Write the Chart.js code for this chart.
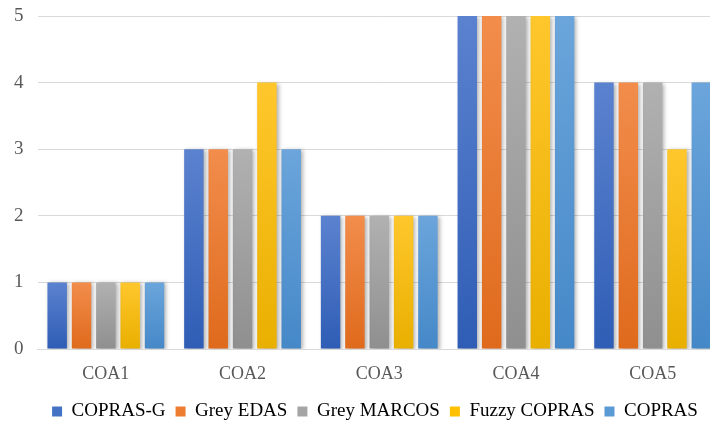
<!DOCTYPE html>
<html>
<head>
<meta charset="utf-8">
<script src="https://cdn.jsdelivr.net/npm/chart.js@4/dist/chart.umd.min.js"></script>
<style>
  html, body { margin: 0; padding: 0; background: #fff; }
  #wrap { width: 710px; height: 423px; overflow: hidden; position: relative; }
  #box { width: 750px; height: 423px; position: absolute; left: 0; top: 0; }
</style>
</head>
<body>
<div id="wrap"><div id="box"><canvas id="chart"></canvas></div></div>
<script>
'use strict';

const categories = ['COA1', 'COA2', 'COA3', 'COA4', 'COA5'];
const seriesNames = ['COPRAS-G', 'Grey EDAS', 'Grey MARCOS', 'Fuzzy COPRAS', 'COPRAS'];
const coprasG = [1, 3, 2, 5, 4];
const greyEdas = [1, 3, 2, 5, 4];
const greyMarcos = [1, 3, 2, 5, 4];
const fuzzyCopras = [1, 4, 2, 5, 3];
const copras = [1, 3, 2, 5, 4];
const yTicks = [0, 1, 2, 3, 4, 5];

// base colour, lighter top, darker bottom
const palette = [
  ['#4472c4', '#5b82cf', '#2f5db5'],
  ['#ed7d31', '#f28d4c', '#df6a1c'],
  ['#a5a5a5', '#b1b1b1', '#8f8f8f'],
  ['#ffc000', '#ffc72c', '#e9af00'],
  ['#5b9bd5', '#6ba5db', '#4588c8']
];

function barFill(idx) {
  return (context) => {
    const chart = context.chart;
    if (!chart.chartArea || context.type !== 'data') return palette[idx][0];
    const y = chart.scales.y;
    const top = y.getPixelForValue(context.raw);
    const bottom = y.getPixelForValue(0);
    if (!Number.isFinite(top) || top === bottom) return palette[idx][0];
    const g = chart.ctx.createLinearGradient(0, top, 0, bottom);
    g.addColorStop(0, palette[idx][1]);
    g.addColorStop(1, palette[idx][2]);
    return g;
  };
}

const barShadow = {
  id: 'barShadow',
  beforeDatasetsDraw(chart) {
    const ctx = chart.ctx;
    ctx.save();
    ctx.shadowColor = 'rgba(0, 0, 0, 0.3)';
    ctx.shadowBlur = 4;
    ctx.shadowOffsetX = 2;
    ctx.shadowOffsetY = 1;
  },
  afterDatasetsDraw(chart) {
    chart.ctx.restore();
  }
};

const values = [coprasG, greyEdas, greyMarcos, fuzzyCopras, copras];

new Chart(document.getElementById('chart'), {
  type: 'bar',
  data: {
    labels: categories,
    datasets: values.map((data, i) => ({
      label: seriesNames[i],
      data,
      backgroundColor: barFill(i),
      borderWidth: 0,
      categoryPercentage: 0.89,
      barPercentage: 0.8
    }))
  },
  plugins: [barShadow],
  options: {
    responsive: true,
    maintainAspectRatio: false,
    animation: false,
    layout: { padding: { left: 0, right: 0, top: 0, bottom: -8 } },
    plugins: {
      legend: {
        position: 'bottom',
        labels: {
          color: '#404040',
          font: { family: 'Liberation Serif', size: 19 },
          boxWidth: 10,
          boxHeight: 10,
          padding: 10,
          generateLabels(chart) {
            return chart.data.datasets.map((ds, i) => ({
              text: ds.label,
              fillStyle: palette[i][0],
              strokeStyle: palette[i][0],
              lineWidth: 0,
              datasetIndex: i,
              hidden: false
            }));
          }
        }
      },
      tooltip: { enabled: false }
    },
    scales: {
      x: {
        grid: { display: false, drawTicks: false },
        border: { display: true, color: '#d9d9d9', width: 1 },
        ticks: {
          color: '#595959',
          font: { family: 'Liberation Serif', size: 18 },
          padding: 14
        },
        afterFit(axis) {
          axis.height = 43;
        }
      },
      y: {
        min: 0,
        max: 5,
        afterBuildTicks(axis) {
          axis.ticks = yTicks.map((v) => ({ value: v }));
        },
        grid: { color: '#d9d9d9', drawTicks: false },
        border: { display: false },
        ticks: {
          color: '#595959',
          font: { family: 'Liberation Serif', size: 19 },
          padding: 14
        },
        afterFit(axis) {
          axis.paddingTop = 16;
        }
      },
      // empty right-hand strip: the plot runs past the cropped edge
      yRight: {
        position: 'right',
        display: true,
        ticks: { display: false },
        grid: { drawOnChartArea: false, drawTicks: false },
        border: { display: false },
        afterFit(axis) {
          axis.width = 29;
          axis.paddingTop = 0;
        }
      }
    }
  }
});
</script>
</body>
</html>
